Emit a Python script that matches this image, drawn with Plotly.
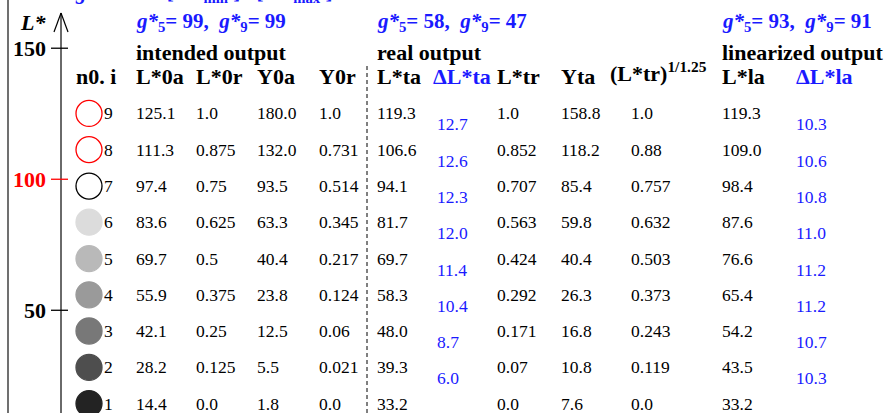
import plotly.graph_objects as go

# ---------------- data ----------------
idx = [9, 8, 7, 6, 5, 4, 3, 2, 1]
L0a = [125.1, 111.3, 97.4, 83.6, 69.7, 55.9, 42.1, 28.2, 14.4]
L0r = [1.0, 0.875, 0.75, 0.625, 0.5, 0.375, 0.25, 0.125, 0.0]
Y0a = [180.0, 132.0, 93.5, 63.3, 40.4, 23.8, 12.5, 5.5, 1.8]
Y0r = [1.0, 0.731, 0.514, 0.345, 0.217, 0.124, 0.06, 0.021, 0.0]
Lta = [119.3, 106.6, 94.1, 81.7, 69.7, 58.3, 48.0, 39.3, 33.2]
dLta = [12.7, 12.6, 12.3, 12.0, 11.4, 10.4, 8.7, 6.0]
Ltr = [1.0, 0.852, 0.707, 0.563, 0.424, 0.292, 0.171, 0.07, 0.0]
Yta = [158.8, 118.2, 85.4, 59.8, 40.4, 26.3, 16.8, 10.8, 7.6]
Ltr125 = [1.0, 0.88, 0.757, 0.632, 0.503, 0.373, 0.243, 0.119, 0.0]
Lla = [119.3, 109.0, 98.4, 87.6, 76.6, 65.4, 54.2, 43.5, 33.2]
dLla = [10.3, 10.6, 10.8, 11.0, 11.2, 11.2, 10.7, 10.3]

tick_vals = [150, 100, 50]
tick_text = ["150", "100", "50"]
tick_colors = ["black", "red", "black"]

circle_fill = ["white", "white", "white", "#dcdcdc", "#b9b9b9",
               "#9a9a9a", "#787878", "#4e4e4e", "#232323"]
circle_line = ["red", "red", "black", "#dcdcdc", "#b9b9b9",
               "#9a9a9a", "#787878", "#4e4e4e", "#232323"]

# ---------------- layout helpers ----------------
W, H = 887, 413
Y_TOP, Y_BOT = 168.4, 10.8
FONT = "Liberation Serif"
BLUE = "#1a1aff"


def py(p):
    """pixel row -> data y"""
    return Y_TOP - p * (Y_TOP - Y_BOT) / H


AX_X = 61
COL_X = {
    "idx": 102, "L0a": 134, "L0r": 194, "Y0a": 255, "Y0r": 317,
    "Lta": 375, "dLta": 435, "Ltr": 495, "Yta": 559, "Ltr125": 629,
    "Lla": 720, "dLla": 794,
}
CIRCLE_X = 89

fig = go.Figure()

# circles (samples)
fig.add_trace(go.Scatter(
    x=[CIRCLE_X] * len(L0a), y=L0a, mode="markers",
    marker=dict(size=26, color=circle_fill,
                line=dict(color=circle_line, width=1.3)),
    hoverinfo="skip", showlegend=False))

ann = []


def txt(x, y, s, size=17.5, color="black", xanchor="left", yshift=0,
        xref="x", yref="y"):
    ann.append(dict(x=x, y=y, text=s, xref=xref, yref=yref, showarrow=False,
                    xanchor=xanchor, yanchor="middle", yshift=yshift,
                    font=dict(family=FONT, size=size, color=color)))


# data cells
cols = [("idx", idx), ("L0a", L0a), ("L0r", L0r), ("Y0a", Y0a), ("Y0r", Y0r),
        ("Lta", Lta), ("Ltr", Ltr), ("Yta", Yta), ("Ltr125", Ltr125), ("Lla", Lla)]
for key, arr in cols:
    for yv, v in zip(L0a, arr):
        txt(COL_X[key], yv, str(v))
for yv, v in zip(L0a[:-1], dLta):
    txt(COL_X["dLta"], yv, f"{v:.1f}", color=BLUE, yshift=-11)
for yv, v in zip(L0a[:-1], dLla):
    txt(COL_X["dLla"], yv, f"{v:.1f}", color=BLUE, yshift=-11)

# headers
HS = 22
hy = py(76)
headers = [("idx", "n0. i", "black", -28, 0), ("L0a", "L*0a", "black", 0, 0),
           ("L0r", "L*0r", "black", 0, 0), ("Y0a", "Y0a", "black", 0, 0),
           ("Y0r", "Y0r", "black", 0, 0), ("Lta", "L*ta", "black", 0, 0),
           ("dLta", "ΔL*ta", BLUE, -4, 0), ("Ltr", "L*tr", "black", 0, 0),
           ("Yta", "Yta", "black", 0, 0),
           ("Ltr125", "(L*tr)<sup>1/1.25</sup>", "black", -21, 4),
           ("Lla", "L*la", "black", 0, 0), ("dLla", "ΔL*la", BLUE, 0, 0)]
for key, s, c, dx, ys in headers:
    txt(COL_X[key] + dx, hy, f"<b>{s}</b>", size=HS, color=c, yshift=ys)

groups = [(134, "intended output", "99", "99"),
          (375, "real output", "58", "47"),
          (720, "linearized output", "93", "91")]
for gx, title, g5, g9 in groups:
    txt(gx, py(52), f"<b>{title}</b>", size=HS)
    txt(gx, py(22),
        f"<b><i>g*</i><sub>5</sub>= {g5},  <i>g*</i><sub>9</sub>= {g9}</b>",
        size=21, color=BLUE)

# top (cut) formula, partly above the page edge
txt(73, 1 + 7 / H,
    "<b><i>g*</i>  =  100 [ L*<sub>min</sub> ] / [ L*<sub>max</sub> ]</b>",
    size=21, color=BLUE, yref="paper")

# axis labels
txt(48, py(22), "<b><i>L*</i></b>", size=HS, xanchor="right")
for tv, tt, tc in zip(tick_vals, tick_text, tick_colors):
    txt(48, tv, f"<b>{tt}</b>", size=HS, color=tc, xanchor="right")

shapes = []
# frame line
shapes.append(dict(type="line", x0=8, x1=8, y0=Y_BOT, y1=Y_TOP,
                   xref="x", yref="y", line=dict(color="#707070", width=2)))
# axis line
shapes.append(dict(type="line", x0=AX_X, x1=AX_X, y0=Y_BOT, y1=py(13),
                   xref="x", yref="y", line=dict(color="#6a6a6a", width=2)))
# arrow head
for dx in (-7, 7):
    shapes.append(dict(type="line", x0=AX_X, x1=AX_X + dx, y0=py(13), y1=py(32),
                       xref="x", yref="y", line=dict(color="black", width=1.2)))
# ticks
for tv, tc in zip(tick_vals, tick_colors):
    shapes.append(dict(type="line", x0=51, x1=68, y0=tv, y1=tv,
                       xref="x", yref="y", line=dict(color=tc, width=1.3)))
# dashed separator
shapes.append(dict(type="line", x0=367, x1=367, y0=Y_BOT, y1=py(66),
                   xref="x", yref="y", line=dict(color="black", width=1, dash="4px,3px")))

fig.update_layout(
    width=W, height=H, margin=dict(l=0, r=0, t=0, b=0),
    paper_bgcolor="white", plot_bgcolor="white",
    xaxis=dict(range=[0, W], visible=False, fixedrange=True),
    yaxis=dict(range=[Y_BOT, Y_TOP], visible=False, fixedrange=True),
    annotations=ann, shapes=shapes, showlegend=False,
)

fig.write_html("out.html", config={"displayModeBar": False},
               post_script="document.body.style.margin='0';")
